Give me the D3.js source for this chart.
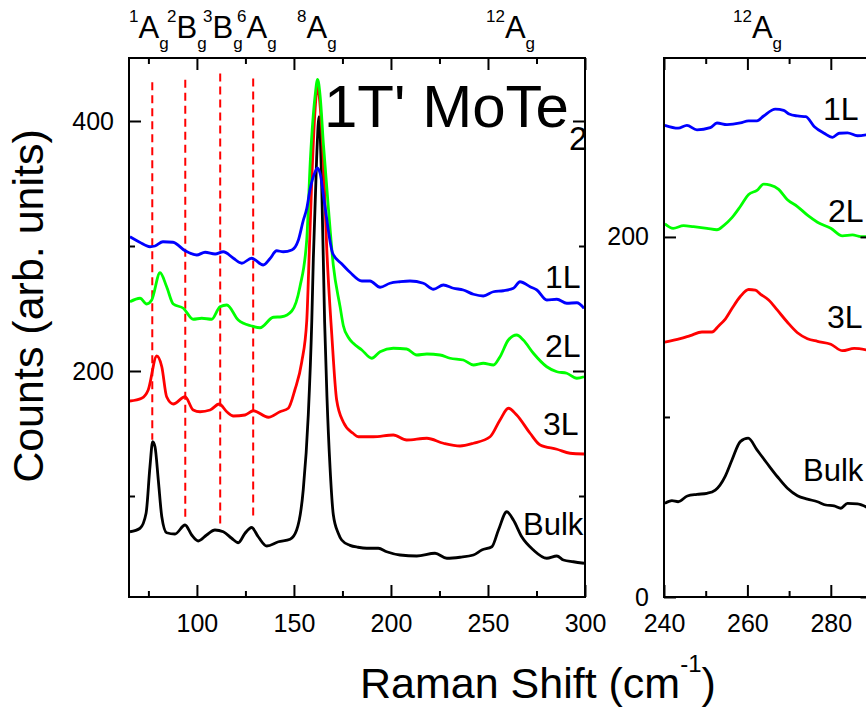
<!DOCTYPE html>
<html><head><meta charset="utf-8">
<script src="https://cdn.jsdelivr.net/npm/d3@7"></script>
<style>
body{margin:0;background:#fff;}
svg{display:block;font-family:"Liberation Sans",Arial,Helvetica,sans-serif;}
</style>
</head><body>
<svg id="c" width="866" height="709"></svg>
<script>
// ---------------- data ----------------
const layerNames = ["1L", "2L", "3L", "Bulk"];
const layerColors = ["#0000ff", "#00ff00", "#ff0000", "#000000"];

const xTicksLeft = [100, 150, 200, 250, 300];
const xMinorLeft = [75, 125, 175, 225, 275];
const yTicksLeft = [200, 400];
const yMinorLeft = [100, 300];

const xTicksRight = [240, 260, 280];
const xMinorRight = [250, 270];
const yTicksRight = [0, 200];
const yMinorRight = [100];

const dashX = [77, 94, 112, 129];
const dashTop = [431, 433, 438, 434];
const dashBottom = [145, 83, 74, 83];

const oneLLeft = [[65.5,307.4],[70.5,303],[75.8,299.4],[78.4,300],[82.5,303.4],[87.7,303],[93.9,296.2],[99.9,292.8],[104.2,295],[109.4,293.6],[113.6,295.4],[118.8,290.2],[123.1,286.2],[128.2,290.2],[134.2,284.8],[137.7,290],[141.1,296.2],[144.5,295.4],[148.9,296.8],[152.3,304.8],[154.8,320.4],[156.6,330],[158.3,345.3],[160.9,359.2],[162.1,362.5],[163.5,358],[166,331.5],[170,294],[174.6,285.8],[178.9,279],[185,272],[189.2,272],[194.4,267],[199.5,270.2],[204.7,271.4],[209.8,272],[216.7,270.2],[221.9,265.4],[227,268.8],[232.2,266.2],[237.3,264.8],[242.5,261.4],[247.6,260],[252.8,263.4],[257.9,264.2],[263.1,266.2],[266.5,271.4],[271.7,267.4],[275.2,264.8],[280.3,256.8],[285.5,257.4],[290.6,254.2],[295.8,254.6],[299.5,250.2]];

const twoLLeft = [[65.5,255.4],[70.7,258.2],[74.1,253.6],[76.7,256.8],[81,278.6],[84.4,267.4],[87.8,253.6],[93,250.2],[98.1,241.4],[102.5,242.2],[107.6,241.4],[111.9,251.4],[115.4,252.8],[121.3,240.8],[128.2,236],[132.5,234.6],[139.4,243],[143.7,243.4],[148.9,248],[153.1,267.4],[156.6,305],[158.5,370],[160.9,420],[162.2,433.3],[163.5,420],[165.2,381.3],[167.7,331.5],[170.3,284.5],[173.8,251.3],[175.5,236],[178,227],[180.6,222.2],[185,216.8],[190.1,210.2],[194.4,215.4],[201.2,218.2],[208.1,217.6],[213.3,212.8],[218.5,213.6],[225.3,212.8],[230.5,210.2],[237.3,208.8],[242.5,204.8],[247.6,206.2],[252.8,204.8],[256.2,211.4],[260.5,224.8],[264.8,228.8],[268.2,224.8],[273.4,214.2],[280.3,203.4],[285.5,199.4],[290.6,198.2],[295.8,194.2],[299.5,195.4]];

const threeLLeft = [[65.5,176],[71.5,178.2],[74.9,184.8],[79.3,212],[81.9,203.4],[84.4,179.4],[87.8,173.6],[93.9,179.4],[98.1,168.8],[101.6,167.4],[106.8,168.8],[111.5,173.6],[115.4,167.4],[118.8,164],[124.8,164.8],[129.1,168.2],[136.8,163],[142.8,167.4],[147.1,170.2],[150.5,185],[154,207],[156.6,240],[158,300],[159.2,353],[160.9,409],[162.1,428.2],[163.5,412],[165.2,367.4],[166.9,298.3],[169.5,229.2],[172,177],[175.5,159],[180.6,150],[183.2,147.4],[190.9,147.4],[201.2,148.8],[208.1,144.8],[218.5,146.2],[227,142.2],[235.6,140],[242.5,142.2],[251.1,147.4],[256.2,160.8],[260.5,170.2],[264.8,164.8],[271.7,150.2],[276.9,140.8],[285.5,137.4],[292.3,134.2],[299.5,133.6]];

const bulkLeft = [[65.5,71.4],[70.7,74.2],[73.8,86.2],[75.8,123.4],[77.2,143.4],[78.4,139.4],[80.1,112.8],[81.9,83.4],[84.4,70.6],[88.7,69.6],[93.9,76.8],[97.3,68.8],[100.7,64],[105,68.8],[109.3,72.8],[113.6,71.4],[117.9,66.2],[121.3,62.6],[124.8,70.2],[128.2,74.8],[131.6,67.4],[136,60],[142,63.4],[148,65.4],[151.4,72.8],[154.8,105],[157.4,165],[159.2,240],[160,290],[161.7,370],[162.9,403.4],[164.3,350],[165.8,240],[167,180],[168.6,123],[170.3,85],[172.9,70],[174.6,64.8],[178.9,60.5],[183,59],[187.5,58.2],[193.5,58.2],[197.8,55.4],[204.7,52.8],[213.3,52],[222.7,54.2],[228.8,50.2],[235.6,51],[242.5,52.8],[246.8,56.8],[252,59.4],[255.4,72.8],[259.7,87.4],[263.1,80.8],[267.4,67.4],[273.4,56.8],[280.3,50.2],[285.5,52],[288.9,48.8],[294,47.4],[299.5,46.2]];

const oneLRight = [[240.2,262],[243.4,260.4],[245.5,262],[247.9,259.5],[251.1,260.7],[252.7,263.3],[255.1,262.4],[258.3,263.3],[260.3,264.5],[262.3,264.5],[263.9,267.2],[266.7,271],[268.7,270.3],[270,268.3],[272,267.2],[274,266.8],[276,261.4],[278.4,257.6],[280.4,255.3],[282,257.6],[284,257.8],[286.4,256.2],[288.7,256.8]];
const twoLRight = [[240.2,207.3],[242.2,204.8],[244.7,206.3],[247.1,205.7],[250.3,204.8],[252.7,204],[254.3,206.3],[256.3,210.7],[258.3,216.9],[260.3,223.6],[262.3,225.9],[263.9,229.3],[265.5,228.8],[267.5,226.4],[269.6,220.7],[272,216.9],[274.4,212.1],[276.8,208.2],[280,204.8],[282.8,200.6],[285.2,201.1],[287.2,200.2],[288.7,200.2]];
const threeLRight = [[240.2,141.6],[243.9,143.5],[246.3,145.2],[249.1,147.2],[251.5,147.2],[253.1,150.6],[254.7,154.4],[256.3,160.2],[258.3,166.9],[260.3,170.8],[261.9,170.4],[263.1,168.3],[265.1,165],[267.2,159.3],[269.6,152.6],[272,146.8],[274.4,143.5],[276.8,142],[280,140.4],[282.8,136.8],[285.6,138.1],[288.7,137.2]];
const bulkRight = [[240.2,52],[241.9,53.5],[243.4,52.9],[245.6,56.1],[247.9,57],[250.3,57.6],[252.3,59.4],[254.7,67.2],[256.3,76.1],[258.3,86.3],[260.2,88.2],[262.3,81.7],[264.7,74.3],[267.2,66.8],[269.6,60.4],[272,56.3],[274.4,54.4],[276.8,52.9],[278.8,51.1],[280.8,50.6],[282.4,49.3],[284,52],[286.4,51.7],[288.7,49.8]];

const leftSeries = [oneLLeft, twoLLeft, threeLLeft, bulkLeft];
const rightSeries = [oneLRight, twoLRight, threeLRight, bulkRight];

// ---------------- drawing ----------------
const svg = d3.select("#c");
const TOP = 58, BOTTOM = 597;

const xL = d3.scaleLinear().domain([65, 300]).range([129, 585]);
const yL = d3.scaleLinear().domain([19.2, 450.4]).range([BOTTOM, TOP]);
const xR = d3.scaleLinear().domain([240, 290]).range([664, 872.5]);
const yR = d3.scaleLinear().domain([0, 299.4]).range([BOTTOM, TOP]);

const defs = svg.append("defs");
function clip(id, x) {
  defs.append("clipPath").attr("id", id).append("rect")
    .attr("x", x.range()[0]).attr("y", TOP)
    .attr("width", x.range()[1] - x.range()[0]).attr("height", BOTTOM - TOP);
}
clip("clipL", xL);
clip("clipR", xR);

function panel(x, y, xMaj, xMin, yMaj, yMin) {
  const g = svg.append("g").attr("font-size", 25);
  const x0 = x.range()[0], x1 = x.range()[1];
  const styleAxis = sel => {
    sel.select(".domain").remove();
    sel.selectAll("line").attr("stroke", "#000").attr("stroke-width", 2);
    sel.selectAll("text").attr("fill", "#000").attr("font-size", 25)
      .attr("font-family", '"Liberation Sans",Arial,sans-serif');
  };
  g.append("g").attr("transform", `translate(0,${BOTTOM})`)
    .call(d3.axisBottom(x).tickValues(xMaj).tickSize(-12).tickPadding(17).tickFormat(d3.format("d"))).call(styleAxis);
  g.append("g").attr("transform", `translate(0,${BOTTOM})`)
    .call(d3.axisBottom(x).tickValues(xMin).tickSize(-6).tickFormat("")).call(styleAxis);
  g.append("g").attr("transform", `translate(0,${TOP})`)
    .call(d3.axisTop(x).tickValues(xMaj).tickSize(-12).tickFormat("")).call(styleAxis);
  g.append("g").attr("transform", `translate(0,${TOP})`)
    .call(d3.axisTop(x).tickValues(xMin).tickSize(-6).tickFormat("")).call(styleAxis);
  g.append("g").attr("transform", `translate(${x0},0)`)
    .call(d3.axisLeft(y).tickValues(yMaj).tickSize(-12).tickPadding(15).tickFormat(d3.format("d"))).call(styleAxis);
  g.append("g").attr("transform", `translate(${x0},0)`)
    .call(d3.axisLeft(y).tickValues(yMin).tickSize(-6).tickFormat("")).call(styleAxis);
  g.append("g").attr("transform", `translate(${x1},0)`)
    .call(d3.axisRight(y).tickValues(yMaj).tickSize(-12).tickFormat("")).call(styleAxis);
  g.append("g").attr("transform", `translate(${x1},0)`)
    .call(d3.axisRight(y).tickValues(yMin).tickSize(-6).tickFormat("")).call(styleAxis);
  g.append("rect").attr("x", x0).attr("y", TOP).attr("width", x1 - x0).attr("height", BOTTOM - TOP)
    .attr("fill", "none").attr("stroke", "#000").attr("stroke-width", 2);
}

// dashed mode guides (left panel)
svg.append("g").attr("clip-path", "url(#clipL)")
  .selectAll("line").data(dashX).join("line")
  .attr("x1", d => xL(d)).attr("x2", d => xL(d))
  .attr("y1", (d, i) => yL(dashTop[i])).attr("y2", (d, i) => yL(dashBottom[i]))
  .attr("stroke", "#ff0000").attr("stroke-width", 2).attr("stroke-dasharray", "8,5");

function drawCurves(series, x, y, clipId) {
  const line = d3.line().x(d => x(d[0])).y(d => y(d[1])).curve(d3.curveMonotoneX);
  const order = [3, 2, 1, 0];
  svg.append("g").attr("clip-path", `url(#${clipId})`)
    .selectAll("path").data(order).join("path")
    .attr("d", i => line(series[i]))
    .attr("fill", "none").attr("stroke", i => layerColors[i])
    .attr("stroke-width", 2.8).attr("stroke-linejoin", "round");
}
drawCurves(leftSeries, xL, yL, "clipL");
drawCurves(rightSeries, xR, yR, "clipR");

panel(xL, yL, xTicksLeft, xMinorLeft, yTicksLeft, yMinorLeft);
panel(xR, yR, xTicksRight, xMinorRight, yTicksRight, yMinorRight);

// layer labels
const labelPosLeft = [[545, 288], [545, 357], [543, 435], [523, 535]];
const labelPosRight = [[823, 120], [828, 222], [827, 328], [803, 481]];
function layerLabels(pos) {
  svg.append("g").selectAll("text").data(layerNames).join("text")
    .attr("x", (d, i) => pos[i][0]).attr("y", (d, i) => pos[i][1])
    .attr("font-size", (d, i) => i === 3 ? 31 : 32).attr("fill", "#000").text(d => d);
}
layerLabels(labelPosLeft);
layerLabels(labelPosRight);

// mode labels on top
function modeLabel(x, sup, main, sub) {
  const t = svg.append("text").attr("x", x).attr("y", 22).attr("fill", "#000");
  t.append("tspan").attr("font-size", 17).text(sup);
  t.append("tspan").attr("font-size", 31).attr("y", 38).text(main);
  t.append("tspan").attr("font-size", 17).attr("y", 49).text(sub);
}
modeLabel(129, "1", "A", "g");
modeLabel(167, "2", "B", "g");
modeLabel(203, "3", "B", "g");
modeLabel(237, "6", "A", "g");
modeLabel(297, "8", "A", "g");
modeLabel(486, "12", "A", "g");
modeLabel(733, "12", "A", "g");

// title
const title = svg.append("text").attr("x", 324).attr("y", 127).attr("font-size", 60).attr("fill", "#000");
title.append("tspan").text("1T' MoTe");
title.append("tspan").attr("font-size", 33).attr("y", 150).text("2");

// axis titles
const xt = svg.append("text").attr("x", 360).attr("y", 698).attr("font-size", 43).attr("fill", "#000");
xt.append("tspan").text("Raman Shift (cm");
xt.append("tspan").attr("font-size", 24).attr("y", 672).text("-1");
xt.append("tspan").attr("y", 698).text(")");

svg.append("text").attr("transform", "translate(43,306) rotate(-90)")
  .attr("text-anchor", "middle").attr("font-size", 43).attr("fill", "#000")
  .text("Counts (arb. units)");
</script>
</body></html>
